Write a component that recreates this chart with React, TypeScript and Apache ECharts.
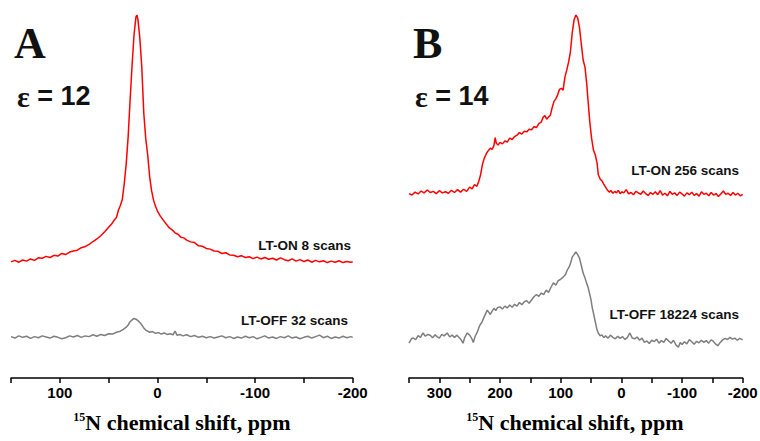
import React, { useEffect, useRef } from "react";
import * as echarts from "echarts";

// Panel A (ε = 12): 15N chemical shift (ppm) and offset intensity (a.u.)
const redA_ppm = [150,146,142,138,134,130,126,122,118,114,110,106,102,98,94,90,86,82,78,74,70,66,62,58,54,50,47,44,42,40,38,36,34,32,30,28,26,24,22,21,20,18,16,14,12,10,8,6,4,2,0,-3,-6,-9,-12,-15,-18,-21,-24,-27,-30,-34,-38,-42,-46,-50,-54,-58,-62,-66,-70,-74,-78,-82,-86,-90,-94,-98,-102,-106,-110,-114,-118,-122,-126,-130,-134,-138,-142,-146,-150,-154,-158,-162,-166,-170,-174,-178,-182,-186,-190,-194,-198,-200];
const redA_int = [32.0,32.4,31.9,32.5,32.2,32.8,32.4,33.1,33.0,33.5,33.2,33.8,33.6,34.3,34.0,34.7,35.0,35.2,35.9,36.2,36.8,37.6,38.3,39.2,40.3,41.5,42.4,43.6,44.2,46.2,47.5,49.2,53.5,59.0,66.5,76.6,86.0,94.5,99.5,100,98.8,93.5,85.5,73.0,66.0,61.5,55.5,51.6,49.0,47.3,46.0,44.6,43.5,42.4,41.4,40.8,40.0,39.6,38.8,38.6,38.0,37.5,37.3,36.4,36.3,35.7,35.5,35.0,34.9,34.3,34.5,33.9,33.8,33.4,33.7,33.2,33.4,32.9,33.3,32.8,33.2,32.7,33.0,32.5,33.1,32.6,32.3,32.8,32.2,32.6,32.1,32.5,31.9,32.4,32.0,32.3,31.8,32.2,31.9,32.3,31.8,32.1,31.9,32.0];

const grayA_ppm = [150,146,142,138,134,130,126,122,118,114,110,106,102,98,94,90,86,82,78,74,70,66,62,58,54,50,46,42,38,35,32,30,28,26,24,22,20,18,16,14,12,10,8,5,2,-1,-4,-7,-10,-13,-16,-18,-20,-23,-26,-30,-34,-38,-42,-46,-50,-54,-58,-62,-66,-70,-74,-78,-82,-86,-90,-94,-98,-102,-106,-110,-114,-118,-122,-126,-130,-134,-138,-142,-146,-150,-154,-158,-162,-166,-170,-174,-178,-182,-186,-190,-194,-198,-200];
const grayA_int = [11.4,11.0,11.6,11.2,11.5,10.9,11.4,11.1,11.6,11.3,11.0,11.5,11.2,10.8,11.1,11.6,11.3,11.7,11.2,11.6,11.4,11.9,11.5,12.0,11.7,12.2,12.1,12.6,12.9,13.4,14.0,14.6,15.5,16.0,16.4,16.2,15.8,15.3,14.6,13.8,13.2,12.9,12.6,12.8,12.3,12.5,12.1,12.4,12.0,12.2,11.9,12.9,11.8,12.0,11.6,11.9,11.4,11.7,11.2,11.5,11.1,11.4,11.0,11.3,11.6,11.1,11.4,10.9,11.3,11.0,11.5,11.1,11.4,10.8,11.2,11.6,11.0,11.3,10.9,11.4,11.1,11.6,11.0,11.3,10.8,11.2,11.5,11.0,11.4,11.8,11.1,11.5,10.9,11.3,11.0,11.5,11.1,11.4,11.2];

// Panel B (ε = 14)
const redB_ppm = [350,345,340,335,330,325,320,315,310,305,300,295,290,285,280,275,270,265,260,255,250,246,242,238,235,232,229,226,222,219,216,213,210,208,206,203,200,196,192,188,184,180,176,172,168,164,160,156,152,148,144,140,136,132,129,126,123,120,117,114,111,108,105,102,99,96,93,90,87,84,81,78,75,72,69,66,63,60,57,55,52,49,46,43,40,38,35,32,29,26,23,20,17,14,11,8,5,2,-1,-4,-8,-12,-16,-20,-24,-28,-32,-36,-40,-44,-48,-52,-56,-60,-64,-68,-72,-76,-80,-84,-88,-92,-96,-100,-104,-108,-112,-116,-120,-124,-128,-132,-136,-140,-144,-148,-152,-156,-160,-164,-168,-172,-176,-180,-184,-188,-192,-196,-200];
const redB_int = [50.8,50.4,51.2,50.7,51.5,51.0,51.8,51.1,51.4,50.8,51.6,51.0,51.3,50.9,51.7,51.1,51.9,51.2,52.0,51.4,52.6,52.1,53.3,52.8,54.2,56.0,58.8,60.5,62.0,62.7,63.3,63.0,64.0,66.2,64.6,64.2,64.9,64.5,65.3,65.0,66.1,65.7,66.5,66.9,67.6,67.2,68.0,67.8,68.5,68.4,69.2,69.0,70.1,70.5,71.8,72.3,71.3,71.9,72.4,74.5,76.2,76.9,78.0,79.5,79.8,79.3,82.9,84.8,87.0,89.8,95.0,98.6,100,99.2,96.5,92.0,87.6,85.7,81.0,76.6,70.5,66.0,62.8,61.5,59.2,56.0,54.8,54.3,53.4,52.6,51.8,51.2,51.6,50.9,51.4,51.0,51.7,50.8,51.3,51.0,51.9,50.7,51.1,50.5,51.4,51.0,50.6,51.5,50.8,50.3,51.1,50.6,51.3,50.5,51.6,50.4,50.9,50.2,51.4,50.6,51.0,50.3,51.2,50.7,50.1,51.0,50.5,51.2,50.3,50.8,50.1,51.3,50.6,50.9,50.2,51.1,50.4,50.8,50.0,50.7,51.5,50.6,50.9,50.3,51.1,50.4,50.9,50.2,50.6];

const grayB_ppm = [350,346,343,339,335,331,327,323,319,315,311,307,304,300,296,292,287,283,279,275,271,267,264,261,258,254,250,247,244,241,238,235,233,230,227,224,221,218,216,213,210,207,204,200,196,192,188,184,180,176,172,168,164,160,156,152,148,144,140,136,132,128,124,120,116,112,108,104,100,96,92,89,86,83,81,78,75,72,69,66,63,60,57,55,52,50,48,46,43,40,38,35,32,29,26,22,18,14,10,6,2,-2,-6,-10,-14,-18,-22,-26,-30,-34,-38,-42,-46,-50,-54,-58,-62,-66,-70,-74,-78,-82,-86,-90,-94,-97,-100,-104,-108,-112,-116,-120,-124,-128,-132,-136,-140,-144,-148,-151,-155,-159,-163,-167,-171,-175,-179,-183,-187,-191,-195,-200];
const grayB_int = [9.6,10.8,11.0,10.6,11.7,11.2,12.4,11.5,12.0,11.8,11.1,11.9,11.4,11.0,12.0,11.6,12.4,11.3,11.8,11.2,11.8,11.1,10.5,9.6,11.2,12.4,11.8,11.0,9.8,11.5,12.4,13.8,14.6,15.3,16.5,17.6,18.7,18.0,17.5,18.4,19.2,18.6,19.4,19.6,19.0,19.8,19.3,20.1,19.5,20.3,19.8,20.8,20.2,21.0,21.3,20.6,21.5,22.4,23.0,22.5,23.4,23.0,24.2,23.6,25.0,26.2,25.6,26.8,27.2,27.8,28.5,29.8,30.6,32.0,33.3,34.0,34.7,34.0,33.0,31.0,28.9,27.6,26.0,25.1,23.0,21.5,19.4,17.9,15.5,13.2,12.4,11.6,11.9,11.1,11.6,11.0,11.8,11.2,10.8,11.5,10.9,11.4,10.6,11.2,12.4,11.0,10.8,11.3,10.4,11.0,9.8,10.2,9.5,10.4,10.0,10.7,9.6,10.3,9.8,10.9,10.2,9.6,10.4,9.1,8.5,9.8,9.2,10.0,9.4,10.6,10.0,9.3,10.1,9.7,10.4,9.8,10.3,9.6,10.5,10.2,9.4,8.9,9.8,10.5,10.9,10.6,11.2,10.7,11.0,10.4,10.9,10.5];

const axisTitle = "N chemical shift, ppm";
const panelLetters = ["A", "B"];
const epsValues = ["12", "14"];
const traceLabels = ["LT-ON 8 scans", "LT-OFF 32 scans", "LT-ON 256 scans", "LT-OFF 18224 scans"];

const zip = (xs: number[], ys: number[]) => xs.map((x, i) => [x, ys[i]]);

const SANS = "'Liberation Sans', Arial, sans-serif";
const SERIF = "'Liberation Serif', 'Times New Roman', serif";

function makeXAxis(gridIndex: number, max: number) {
  return {
    type: "value",
    gridIndex,
    inverse: true,
    min: -200,
    max,
    interval: 50,
    axisLine: { show: true, onZero: false, lineStyle: { color: "#000", width: 1.5 } },
    axisTick: { show: true, inside: false, length: 5, lineStyle: { color: "#000", width: 1.5 } },
    axisLabel: {
      show: true,
      margin: 7,
      color: "#000",
      fontFamily: SANS,
      fontWeight: "bold",
      fontSize: 15,
      formatter: (v: number) => (v % 100 === 0 ? String(v) : ""),
    },
    splitLine: { show: false },
  };
}

function makeYAxis(gridIndex: number) {
  return {
    type: "value",
    gridIndex,
    min: 0,
    max: 100,
    show: false,
  };
}

export default function App() {
  const ref = useRef<HTMLDivElement>(null);
  useEffect(() => {
    if (!ref.current) return;
    const chart = echarts.init(ref.current, undefined, { renderer: "svg" });
    const titleText = (cx: number) => ({
      type: "text",
      x: cx,
      y: 433,
      style: {
        text: "{s|15}{n|" + axisTitle + "}",
        align: "center",
        verticalAlign: "bottom",
        rich: {
          s: { fontFamily: SERIF, fontWeight: "bold", fontSize: 12, fill: "#000", verticalAlign: "top", lineHeight: 22, padding: [0, 0, 8, 0] },
          n: { fontFamily: SERIF, fontWeight: "bold", fontSize: 22, fill: "#000", lineHeight: 22 },
        },
      },
    });
    const label = (text: string, x: number, y: number, size: number, family: string, align = "left") => ({
      type: "text",
      x,
      y,
      style: {
        text,
        fontFamily: family,
        fontWeight: "bold",
        fontSize: size,
        fill: "#111",
        align,
        verticalAlign: "middle",
      },
    });
    const epsText = (value: string, x: number) => ({
      type: "text",
      x,
      y: 96,
      style: {
        text: "{e|ε}{t| = " + value + "}",
        align: "left",
        verticalAlign: "middle",
        rich: {
          e: { fontFamily: SERIF, fontWeight: "bold", fontSize: 30, fill: "#111", lineHeight: 30 },
          t: { fontFamily: SANS, fontWeight: "bold", fontSize: 27, fill: "#111", lineHeight: 30 },
        },
      },
    });
    chart.setOption({
      animation: false,
      backgroundColor: "#fff",
      grid: [
        { left: 11, top: 15, width: 341.7, height: 363, containLabel: false, outerBoundsMode: "none" },
        { left: 409, top: 15, width: 333.7, height: 363, containLabel: false, outerBoundsMode: "none" },
      ],
      xAxis: [makeXAxis(0, 150), makeXAxis(1, 350)],
      yAxis: [makeYAxis(0), makeYAxis(1)],
      series: [
        { type: "line", xAxisIndex: 0, yAxisIndex: 0, data: zip(redA_ppm, redA_int), showSymbol: false, lineStyle: { color: "#ff0000", width: 1.5 }, silent: true },
        { type: "line", xAxisIndex: 0, yAxisIndex: 0, data: zip(grayA_ppm, grayA_int), showSymbol: false, lineStyle: { color: "#7f7f7f", width: 1.5 }, silent: true },
        { type: "line", xAxisIndex: 1, yAxisIndex: 1, data: zip(redB_ppm, redB_int), showSymbol: false, lineStyle: { color: "#ff0000", width: 1.5 }, silent: true },
        { type: "line", xAxisIndex: 1, yAxisIndex: 1, data: zip(grayB_ppm, grayB_int), showSymbol: false, lineStyle: { color: "#7f7f7f", width: 1.5 }, silent: true },
      ],
      graphic: [
        label(panelLetters[0], 14, 43, 44, SERIF),
        label(panelLetters[1], 413, 43, 44, SERIF),
        epsText(epsValues[0], 17),
        epsText(epsValues[1], 415),
        label(traceLabels[0], 351, 245, 13.5, SANS, "right"),
        label(traceLabels[1], 348, 320, 13.5, SANS, "right"),
        label(traceLabels[2], 739, 170, 13.5, SANS, "right"),
        label(traceLabels[3], 739, 314, 13.5, SANS, "right"),
        titleText(182),
        titleText(575),
      ],
    });
    return () => chart.dispose();
  }, []);
  return <div ref={ref} style={{ position: "fixed", left: 0, top: 0, width: 760, height: 441 }} />;
}
